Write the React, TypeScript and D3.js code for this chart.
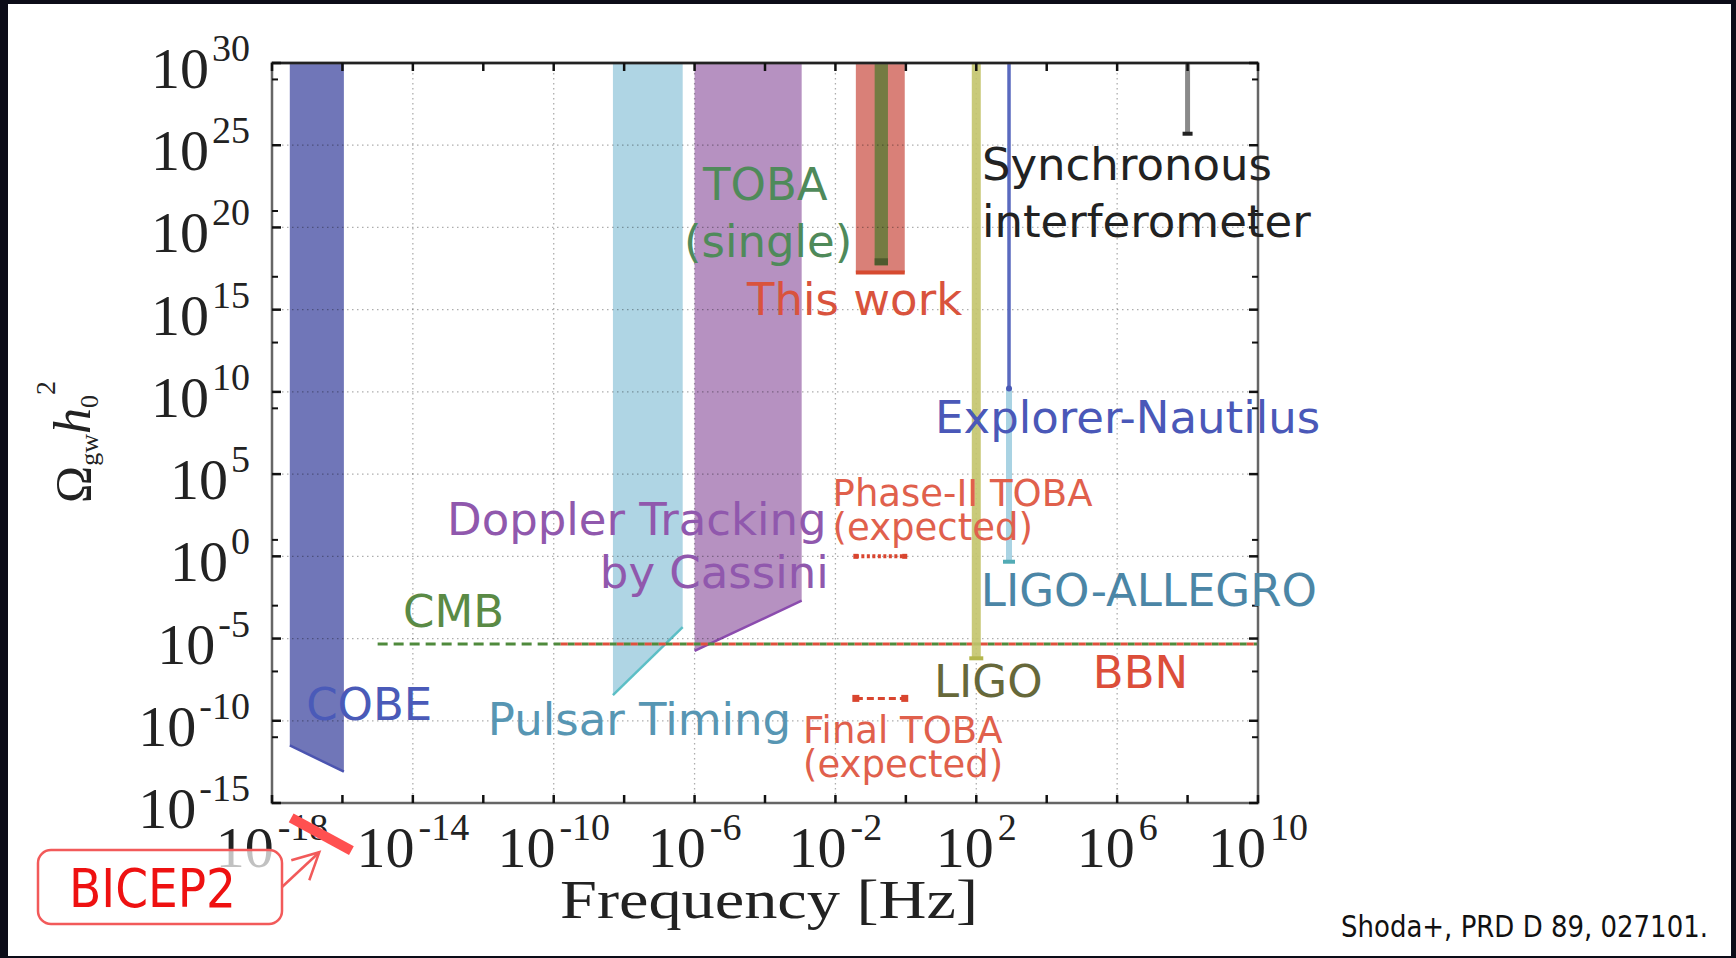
import React from 'react';
import * as d3 from 'd3';

const W = 1736;
const H = 958;

// axes
const xTickExps = [-18, -14, -10, -6, -2, 2, 6, 10];
const xMinorExps = d3.range(-18, 11, 2);
const yTickExps = [30, 25, 20, 15, 10, 5, 0, -5, -10, -15];
const yMinorExps = [29, 21, 17, 13, 9, 1, -3, -7, -11];

// upper limits shown as bands: [f low, f high] and the floor under each edge
const cobeFreq = [3.2e-18, 1.1e-16];
const cobeFloor = [3.2e-12, 8e-14];
const pulsarFreq = [4.8e-9, 4.6e-7];
const pulsarFloor = [3.6e-9, 5e-5];
const cassiniFreq = [1e-6, 1.1e-3];
const cassiniFloor = [1.8e-6, 2e-3];
const thisWorkFreq = [0.038, 0.93];
const thisWorkFloor = 1.8e17;
const tobaSingleFreq = [0.13, 0.31];
const tobaSingleFloor = 5e17;

// narrow-band limits (single frequency, ceiling -> floor)
const ligoFreq = 100;
const ligoFloor = 6.3e-7;
const nautilusFreq = 850;
const nautilusFloor = 1.6e10;
const allegroFreq = 850;
const allegroFloor = 0.47;
const syncFreq = 1e8;
const syncFloor = 5e25;

// horizontal limits
const phase2Freq = [0.038, 0.93];
const phase2Level = 1;
const finalFreq = [0.038, 0.93];
const finalLevel = 2.3e-9;
const cmbFreq = [1e-15, 1e10];
const bbnFreq = [1e-10, 1e10];
const nucleoLevel = 4.6e-6;

// BICEP2 segment
const bicep2Freq = [3.5e-18, 1.8e-16];
const bicep2Omega = [1.26e-16, 1.26e-18];

// text labels, anchored at [log10 f, log10 Omega]
const labels: [string, number, number, string, number][] = [
  ['TOBA', -5.76, 21.67, '#4f8a5a', 45],
  ['(single)', -6.3, 18.2, '#4f8a5a', 45],
  ['This work', -4.51, 14.68, '#d9533d', 45],
  ['Synchronous', 2.16, 22.89, '#222222', 45],
  ['interferometer', 2.16, 19.42, '#222222', 45],
  ['Explorer-Nautilus', 0.83, 7.5, '#4a58b8', 45],
  ['Phase-II TOBA', -2.08, 3.06, '#e0604c', 37],
  ['(expected)', -2.08, 0.99, '#e0604c', 37],
  ['LIGO-ALLEGRO', 2.13, -3.02, '#4b86a6', 45],
  ['BBN', 5.31, -8.01, '#dc4e3a', 45],
  ['LIGO', 0.8, -8.56, '#66683a', 45],
  ['Final TOBA', -2.92, -11.35, '#e0604c', 37],
  ['(expected)', -2.92, -13.42, '#e0604c', 37],
  ['Doppler Tracking', -13.03, 1.3, '#9058ad', 45],
  ['by Cassini', -8.69, -1.93, '#9058ad', 45],
  ['Pulsar Timing', -11.87, -10.87, '#5796b3', 45],
  ['COBE', -17.03, -9.95, '#4a5ab8', 45],
  ['CMB', -14.28, -4.3, '#5a8a45', 45],
];

const sans = "'DejaVu Sans', Verdana, sans-serif";
const serif = "'Liberation Serif', 'Times New Roman', serif";

export default function App() {
  const x = d3.scaleLog().domain([1e-18, 1e10]).range([272, 1258]);
  const y = d3.scaleLog().domain([1e-15, 1e30]).range([803, 63]);
  const [x0, x1] = x.range();
  const [y0, y1] = y.range();

  const band = d3.line<[number, number]>().x(d => x(d[0])).y(d => y(d[1]));
  const bandPath = (f: number[], floor: number[]) =>
    band([[f[0], 1e30], [f[1], 1e30], [f[1], floor[1]], [f[0], floor[0]]]) + 'Z';
  const edge = (f: number[], floor: number[]) =>
    band([[f[0], floor[0]], [f[1], floor[1]]]);

  const bx = bicep2Freq.map(v => x(v));
  const by = bicep2Omega.map(v => y(v));
  const tipX = (bx[0] + bx[1]) / 2 - 2;
  const tipY = (by[0] + by[1]) / 2 + 18;

  return (
    <svg width={W} height={H} style={{position: 'absolute', left: 0, top: 0, display: 'block'}}>
      <rect x={0} y={0} width={W} height={H} fill="#0c0c18" />
      <rect x={8} y={4} width={1723} height={952} fill="#ffffff" />

      <clipPath id="plot-clip">
        <rect x={x0} y={y1} width={x1 - x0} height={y0 - y1} />
      </clipPath>

      <g clipPath="url(#plot-clip)">
        {/* bands */}
        <path d={bandPath(cobeFreq, cobeFloor)} fill="#7076b8" />
        <path d={edge(cobeFreq, cobeFloor)!} stroke="#4b54b0" strokeWidth={2.5} fill="none" />
        <path d={bandPath(pulsarFreq, pulsarFloor)} fill="#afd5e4" />
        <path d={edge(pulsarFreq, pulsarFloor)!} stroke="#5cbfc6" strokeWidth={2.5} fill="none" />
        <path d={bandPath(cassiniFreq, cassiniFloor)} fill="#b691c1" />
        <path d={edge(cassiniFreq, cassiniFloor)!} stroke="#8b4cae" strokeWidth={2.5} fill="none" />
        <path d={bandPath(thisWorkFreq, [thisWorkFloor, thisWorkFloor])} fill="#d98078" />
        <line x1={x(thisWorkFreq[0])} x2={x(thisWorkFreq[1])} y1={y(thisWorkFloor)} y2={y(thisWorkFloor)}
              stroke="#d64a30" strokeWidth={4} />
        <path d={bandPath(tobaSingleFreq, [tobaSingleFloor, tobaSingleFloor])} fill="#747b42" />
        <rect x={x(tobaSingleFreq[0])} y={y(tobaSingleFloor) - 7}
              width={x(tobaSingleFreq[1]) - x(tobaSingleFreq[0])} height={7} fill="#4e5a2e" />

        {/* grid */}
        {xTickExps.slice(1, -1).map(e => (
          <line key={'gx' + e} x1={x(10 ** e)} x2={x(10 ** e)} y1={y1} y2={y0}
                stroke="rgba(0,0,0,0.32)" strokeWidth={1.3} strokeDasharray="1.5 3.5" />
        ))}
        {yTickExps.slice(1, -1).map(e => (
          <line key={'gy' + e} x1={x0} x2={x1} y1={y(10 ** e)} y2={y(10 ** e)}
                stroke="rgba(0,0,0,0.32)" strokeWidth={1.3} strokeDasharray="1.5 3.5" />
        ))}

        {/* CMB / BBN */}
        <line x1={x(cmbFreq[0])} x2={x(bbnFreq[0])} y1={y(nucleoLevel)} y2={y(nucleoLevel)}
              stroke="#4f8a3c" strokeWidth={3} strokeDasharray="10 6" />
        <line x1={x(bbnFreq[0])} x2={x(cmbFreq[1])} y1={y(nucleoLevel)} y2={y(nucleoLevel)}
              stroke="#4f8a3c" strokeWidth={3} strokeDasharray="7 7" />
        <line x1={x(bbnFreq[0])} x2={x(bbnFreq[1])} y1={y(nucleoLevel)} y2={y(nucleoLevel)}
              stroke="#e0503c" strokeWidth={3} strokeDasharray="7 7" strokeDashoffset={7} />

        {/* LIGO */}
        <line x1={x(ligoFreq)} x2={x(ligoFreq)} y1={y1} y2={y(ligoFloor)}
              stroke="#c3c46c" strokeOpacity={0.9} strokeWidth={9} />
        <line x1={x(ligoFreq) - 7} x2={x(ligoFreq) + 7} y1={y(ligoFloor)} y2={y(ligoFloor)}
              stroke="#b3b64c" strokeWidth={4} />

        {/* LIGO-ALLEGRO and Explorer-Nautilus */}
        <line x1={x(allegroFreq)} x2={x(allegroFreq)} y1={y(nautilusFloor)} y2={y(allegroFloor)}
              stroke="#a9d3e3" strokeWidth={6} />
        <line x1={x(allegroFreq) - 6} x2={x(allegroFreq) + 6} y1={y(allegroFloor)} y2={y(allegroFloor)}
              stroke="#52abb5" strokeWidth={4} />
        <line x1={x(nautilusFreq)} x2={x(nautilusFreq)} y1={y1} y2={y(nautilusFloor)}
              stroke="#5a6abf" strokeWidth={3.5} />
        <circle cx={x(nautilusFreq)} cy={y(nautilusFloor)} r={3} fill="#4a5ab5" />

        {/* synchronous interferometer */}
        <line x1={x(syncFreq)} x2={x(syncFreq)} y1={y1} y2={y(syncFloor)}
              stroke="#8a8a8a" strokeWidth={5} />
        <line x1={x(syncFreq) - 5} x2={x(syncFreq) + 5} y1={y(syncFloor)} y2={y(syncFloor)}
              stroke="#222" strokeWidth={4} />

        {/* TOBA expected */}
        <line x1={x(phase2Freq[0])} x2={x(phase2Freq[1])} y1={y(phase2Level)} y2={y(phase2Level)}
              stroke="#d9452f" strokeWidth={4} strokeDasharray="3 2.5" />
        {phase2Freq.map((f, i) => (
          <rect key={'p2' + i} x={x(f) - 2.5} y={y(phase2Level) - 2.5} width={5} height={5} fill="#d9452f" />
        ))}
        <line x1={x(finalFreq[0])} x2={x(finalFreq[1])} y1={y(finalLevel)} y2={y(finalLevel)}
              stroke="#d9452f" strokeWidth={3} strokeDasharray="7 4" />
        {finalFreq.map((f, i) => (
          <rect key={'ft' + i} x={x(f) - 3.5} y={y(finalLevel) - 3.5} width={7} height={7} fill="#d9452f" />
        ))}
      </g>

      {/* frame */}
      <rect x={x0} y={y1} width={x1 - x0} height={y0 - y1} fill="none" stroke="#666" strokeWidth={2.5} />
      <line x1={x0} x2={x1} y1={y1} y2={y1} stroke="#222" strokeWidth={2.5} />

      {/* ticks */}
      {xMinorExps.map(e => (
        <g key={'tx' + e}>
          <line x1={x(10 ** e)} x2={x(10 ** e)} y1={y0} y2={y0 - 8} stroke="#111" strokeWidth={2.5} />
          <line x1={x(10 ** e)} x2={x(10 ** e)} y1={y1} y2={y1 + 8} stroke="#111" strokeWidth={2.5} />
        </g>
      ))}
      {yTickExps.map(e => (
        <g key={'ty' + e}>
          <line x1={x0} x2={x0 + 9} y1={y(10 ** e)} y2={y(10 ** e)} stroke="#111" strokeWidth={2.5} />
          <line x1={x1} x2={x1 - 9} y1={y(10 ** e)} y2={y(10 ** e)} stroke="#111" strokeWidth={2.5} />
        </g>
      ))}
      {yMinorExps.map(e => (
        <g key={'my' + e}>
          <line x1={x0} x2={x0 + 6} y1={y(10 ** e)} y2={y(10 ** e)} stroke="#111" strokeWidth={2} />
          <line x1={x1} x2={x1 - 6} y1={y(10 ** e)} y2={y(10 ** e)} stroke="#111" strokeWidth={2} />
        </g>
      ))}

      {/* tick labels */}
      {yTickExps.map(e => (
        <text key={'ly' + e} x={250} y={y(10 ** e) + 25} textAnchor="end"
              fontFamily={serif} fontSize={58} fill="#222">
          10<tspan dx={3} dy={-27} fontSize={38}>{String(e)}</tspan>
        </text>
      ))}
      {xTickExps.map(e => (
        <text key={'lx' + e} x={x(10 ** e)} y={y0 + 64} textAnchor="middle"
              fontFamily={serif} fontSize={58} fill="#222">
          10<tspan dx={4} dy={-27} fontSize={38}>{String(e)}</tspan>
        </text>
      ))}

      {/* axis titles */}
      <text x={560} y={918} fontFamily={serif} fontSize={55} fill="#222"
            textLength={418} lengthAdjust="spacingAndGlyphs">Frequency [Hz]</text>
      <text transform="translate(90,442) rotate(-90)" textAnchor="middle" fontFamily={serif} fill="#222">
        <tspan fontSize={50}>Ω</tspan>
        <tspan fontSize={26} dy={8}>gw</tspan>
        <tspan fontSize={52} fontStyle="italic" dy={-8}>h</tspan>
        <tspan fontSize={26} dy={8}>0</tspan>
        <tspan fontSize={28} dy={-43}>2</tspan>
      </text>

      {/* annotations */}
      {labels.map(([t, lf, lv, c, fs], i) => (
        <text key={'a' + i} x={x(10 ** lf)} y={y(10 ** lv)} fontFamily={sans} fontSize={fs} fill={c}>{t}</text>
      ))}

      {/* BICEP2 */}
      <line x1={bx[0]} y1={by[0]} x2={bx[1]} y2={by[1]} stroke="#ff5050" strokeWidth={10} />
      <rect x={38} y={850} width={244} height={74} rx={13} fill="rgba(255,255,255,0.72)"
            stroke="#f25a5a" strokeWidth={2.5} />
      <text x={69} y={907} fontFamily="'DejaVu Sans Condensed', 'DejaVu Sans', sans-serif" fontStretch="condensed"
            fontSize={54} fill="#ee1111" textLength={167} lengthAdjust="spacingAndGlyphs">BICEP2</text>
      <line x1={282} y1={887} x2={tipX} y2={tipY} stroke="#f25a5a" strokeWidth={2.5} />
      <polyline points={`${tipX - 28},${tipY + 8} ${tipX},${tipY} ${tipX - 10},${tipY + 28}`}
                fill="none" stroke="#f25a5a" strokeWidth={2.5} />

      <text x={1341} y={937} fontFamily="'DejaVu Sans Condensed', 'DejaVu Sans', sans-serif" fontStretch="condensed"
            fontSize={30} fill="#111" textLength={367} lengthAdjust="spacingAndGlyphs">Shoda+, PRD D 89, 027101.</text>
    </svg>
  );
}
